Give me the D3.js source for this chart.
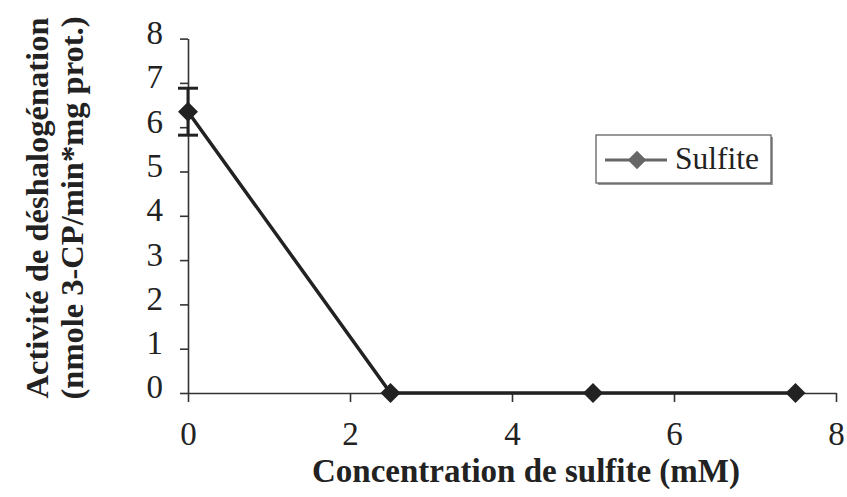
<!DOCTYPE html>
<html>
<head>
<meta charset="utf-8">
<script src="https://cdn.jsdelivr.net/npm/d3@7"></script>
<style>
  body { margin: 0; background: #fff; }
  text { font-family: "Liberation Serif", "Times New Roman", serif; fill: #222; }
</style>
</head>
<body>
<div id="chart"></div>
<script>
const concentrations = [0, 2.5, 5, 7.5];
const activity = [6.35, 0, 0, 0];
const errors = [0.53, 0, 0, 0];
const xTicks = [0, 2, 4, 6, 8];
const yTicks = [0, 1, 2, 3, 4, 5, 6, 7, 8];
const seriesName = 'Sulfite';
const xTitle = 'Concentration de sulfite (mM)';
const yTitle = ['Activité de déshalogénation', '(nmole 3-CP/min*mg prot.)'];

const width = 847;
const height = 497;

const data = concentrations.map((c, i) => ({ x: c, y: activity[i], err: errors[i] }));

const xScale = d3.scaleLinear().domain([0, 8]).range([188, 836]);
const yScale = d3.scaleLinear().domain([0, 8]).range([393, 38.6]);

const svg = d3.select('#chart')
              .append('svg')
              .attr('width', width)
              .attr('height', height);

svg.append('rect').attr('width', width).attr('height', height).attr('fill', '#fff');

// axes
const yAxis = d3.axisLeft(yScale).tickValues(yTicks).tickSize(8).tickSizeOuter(0).tickPadding(17);
const xAxis = d3.axisBottom(xScale).tickValues(xTicks).tickSize(9).tickSizeOuter(0).tickPadding(20);

const gy = svg.append('g').attr('transform', `translate(${xScale(0)},0)`).call(yAxis);
const gx = svg.append('g').attr('transform', `translate(0,${yScale(0)})`).call(xAxis);

[gx, gy].forEach(g => {
  g.selectAll('path, line').attr('stroke', '#333').attr('stroke-width', 1.6);
  g.selectAll('text').attr('font-size', 33).attr('font-family', '"Liberation Serif", serif').attr('fill', '#222');
});
gy.selectAll('text').attr('dy', '0.15em');

// error bars
const capW = 10;
const eb = svg.append('g').selectAll('g').data(data.filter(d => d.err > 0)).join('g');
eb.append('line')
  .attr('x1', d => xScale(d.x)).attr('x2', d => xScale(d.x))
  .attr('y1', d => yScale(d.y + d.err)).attr('y2', d => yScale(d.y - d.err))
  .attr('stroke', '#222').attr('stroke-width', 3);
[1, -1].forEach(s => {
  eb.append('line')
    .attr('x1', d => xScale(d.x) - capW).attr('x2', d => xScale(d.x) + capW)
    .attr('y1', d => yScale(d.y + s * d.err)).attr('y2', d => yScale(d.y + s * d.err))
    .attr('stroke', '#222').attr('stroke-width', 3);
});

// series line
const line = d3.line().x(d => xScale(d.x)).y(d => yScale(d.y));
svg.append('path')
   .datum(data)
   .attr('d', line)
   .attr('fill', 'none')
   .attr('stroke', '#222')
   .attr('stroke-width', 3.5);

const diamond = d3.symbol(d3.symbolSquare, 200);
svg.append('g').selectAll('path').data(data).join('path')
   .attr('d', diamond)
   .attr('transform', d => `translate(${xScale(d.x)},${yScale(d.y)}) rotate(45)`)
   .attr('fill', '#222');

// axis titles
svg.append('text')
   .attr('x', 526)
   .attr('y', 482)
   .attr('text-anchor', 'middle')
   .attr('font-weight', 'bold')
   .attr('font-size', 33)
   .text(xTitle);

svg.append('g')
   .attr('transform', 'translate(48,208) rotate(-90)')
   .selectAll('text').data(yTitle).join('text')
   .attr('x', 0)
   .attr('y', (d, i) => i * 35)
   .attr('text-anchor', 'middle')
   .attr('font-weight', 'bold')
   .attr('font-size', 32.5)
   .text(d => d);

// legend
const lg = svg.append('g').attr('transform', 'translate(596,135)');
lg.append('rect').attr('x', 2).attr('y', 2).attr('width', 175).attr('height', 48).attr('fill', '#999');
lg.append('rect').attr('width', 175).attr('height', 48).attr('fill', '#fff').attr('stroke', '#555').attr('stroke-width', 1.2);
lg.append('line').attr('x1', 9).attr('x2', 71).attr('y1', 25).attr('y2', 25).attr('stroke', '#666').attr('stroke-width', 3);
lg.append('path').attr('d', d3.symbol(d3.symbolSquare, 170)).attr('transform', 'translate(41,25) rotate(45)').attr('fill', '#666');
lg.append('text').attr('x', 79).attr('y', 34).attr('font-size', 31.5).text(seriesName);
</script>
</body>
</html>
